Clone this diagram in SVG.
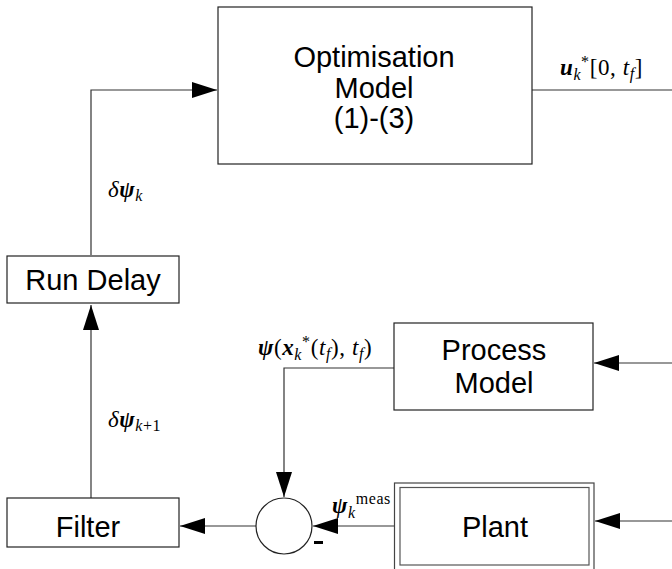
<svg xmlns="http://www.w3.org/2000/svg" width="672" height="569" viewBox="0 0 672 569">
<defs>
<marker id="arr" markerWidth="26" markerHeight="16" refX="25" refY="8" orient="auto" markerUnits="userSpaceOnUse">
<path d="M0,0 L25,8 L0,16 Z" fill="#000"/>
</marker>
<style>
.box{fill:#fff;stroke:#222;stroke-width:1.2}
.ln{fill:none;stroke:#333;stroke-width:1.2}
.lbl{font-family:"Liberation Sans",Arial,sans-serif;font-size:29px;fill:#000;text-anchor:middle}
.m{font-family:"Liberation Serif","Times New Roman",serif;font-size:23px;fill:#000;letter-spacing:0.6px}
.bi{font-style:italic;font-weight:bold}
.i{font-style:italic}
.s{font-size:16px}
</style>
</defs>
<g id="connectors">
<path class="ln" d="M91,255 V90 H217" marker-end="url(#arr)"/>
<path class="ln" d="M532,90 H672"/>
<path class="ln" d="M91,498 V305" marker-end="url(#arr)"/>
<path class="ln" d="M256,526 H180" marker-end="url(#arr)"/>
<path class="ln" d="M394,368 H284 V497" marker-end="url(#arr)"/>
<path class="ln" d="M394,526 H313" marker-end="url(#arr)"/>
<path class="ln" d="M672,363 H594" marker-end="url(#arr)"/>
<path class="ln" d="M672,521 H595" marker-end="url(#arr)"/>
</g>
<g id="opt">
<rect class="box" x="218" y="7" width="314" height="157"/>
<text class="lbl" x="374" y="67">Optimisation</text>
<text class="lbl" x="374" y="98">Model</text>
<text class="lbl" x="374" y="128">(1)-(3)</text>
</g>
<g id="rundelay">
<rect class="box" x="7" y="256" width="172" height="47"/>
<text class="lbl" x="93" y="290">Run Delay</text>
</g>
<g id="filter">
<rect class="box" x="7" y="498" width="172" height="49"/>
<text class="lbl" x="88" y="537">Filter</text>
</g>
<g id="process">
<rect class="box" x="394" y="323" width="199" height="87"/>
<text class="lbl" x="494" y="360">Process</text>
<text class="lbl" x="494" y="393">Model</text>
</g>
<g id="plant">
<rect x="394.5" y="483" width="199.5" height="90" fill="#fff" stroke="#444" stroke-width="1.2"/>
<rect x="400" y="487.5" width="189" height="77.5" fill="#fff" stroke="#555" stroke-width="1.2"/>
<text class="lbl" x="495" y="537">Plant</text>
</g>
<g id="sum">
<circle cx="284" cy="526" r="28" fill="#fff" stroke="#222" stroke-width="1.2"/>
<rect x="314" y="541" width="9" height="3" fill="#000"/>
</g>
<g id="labels">
<text class="m" x="560" y="75"><tspan class="bi">u</tspan><tspan class="i s" dy="5">k</tspan><tspan class="s" dy="-13">*</tspan><tspan dy="8">[0, </tspan><tspan class="i">t</tspan><tspan class="i s" dy="4">f</tspan><tspan dy="-4">]</tspan></text>
<text class="m" x="108" y="197"><tspan class="i">δ</tspan><tspan class="bi">ψ</tspan><tspan class="i s" dy="4">k</tspan></text>
<text class="m" x="108" y="427"><tspan class="i">δ</tspan><tspan class="bi">ψ</tspan><tspan class="s" dy="4"><tspan class="i">k</tspan>+1</tspan></text>
<text class="m" x="258" y="355"><tspan class="bi">ψ</tspan>(<tspan class="bi">x</tspan><tspan class="i s" dy="5">k</tspan><tspan class="s" dy="-13">*</tspan><tspan dy="8">(</tspan><tspan class="i">t</tspan><tspan class="i s" dy="4">f</tspan><tspan dy="-4">), </tspan><tspan class="i">t</tspan><tspan class="i s" dy="4">f</tspan><tspan dy="-4">)</tspan></text>
<text class="m" x="332" y="513"><tspan class="bi">ψ</tspan><tspan class="i s" dy="5">k</tspan><tspan class="s" dy="-14">meas</tspan></text>
</g>
</svg>
